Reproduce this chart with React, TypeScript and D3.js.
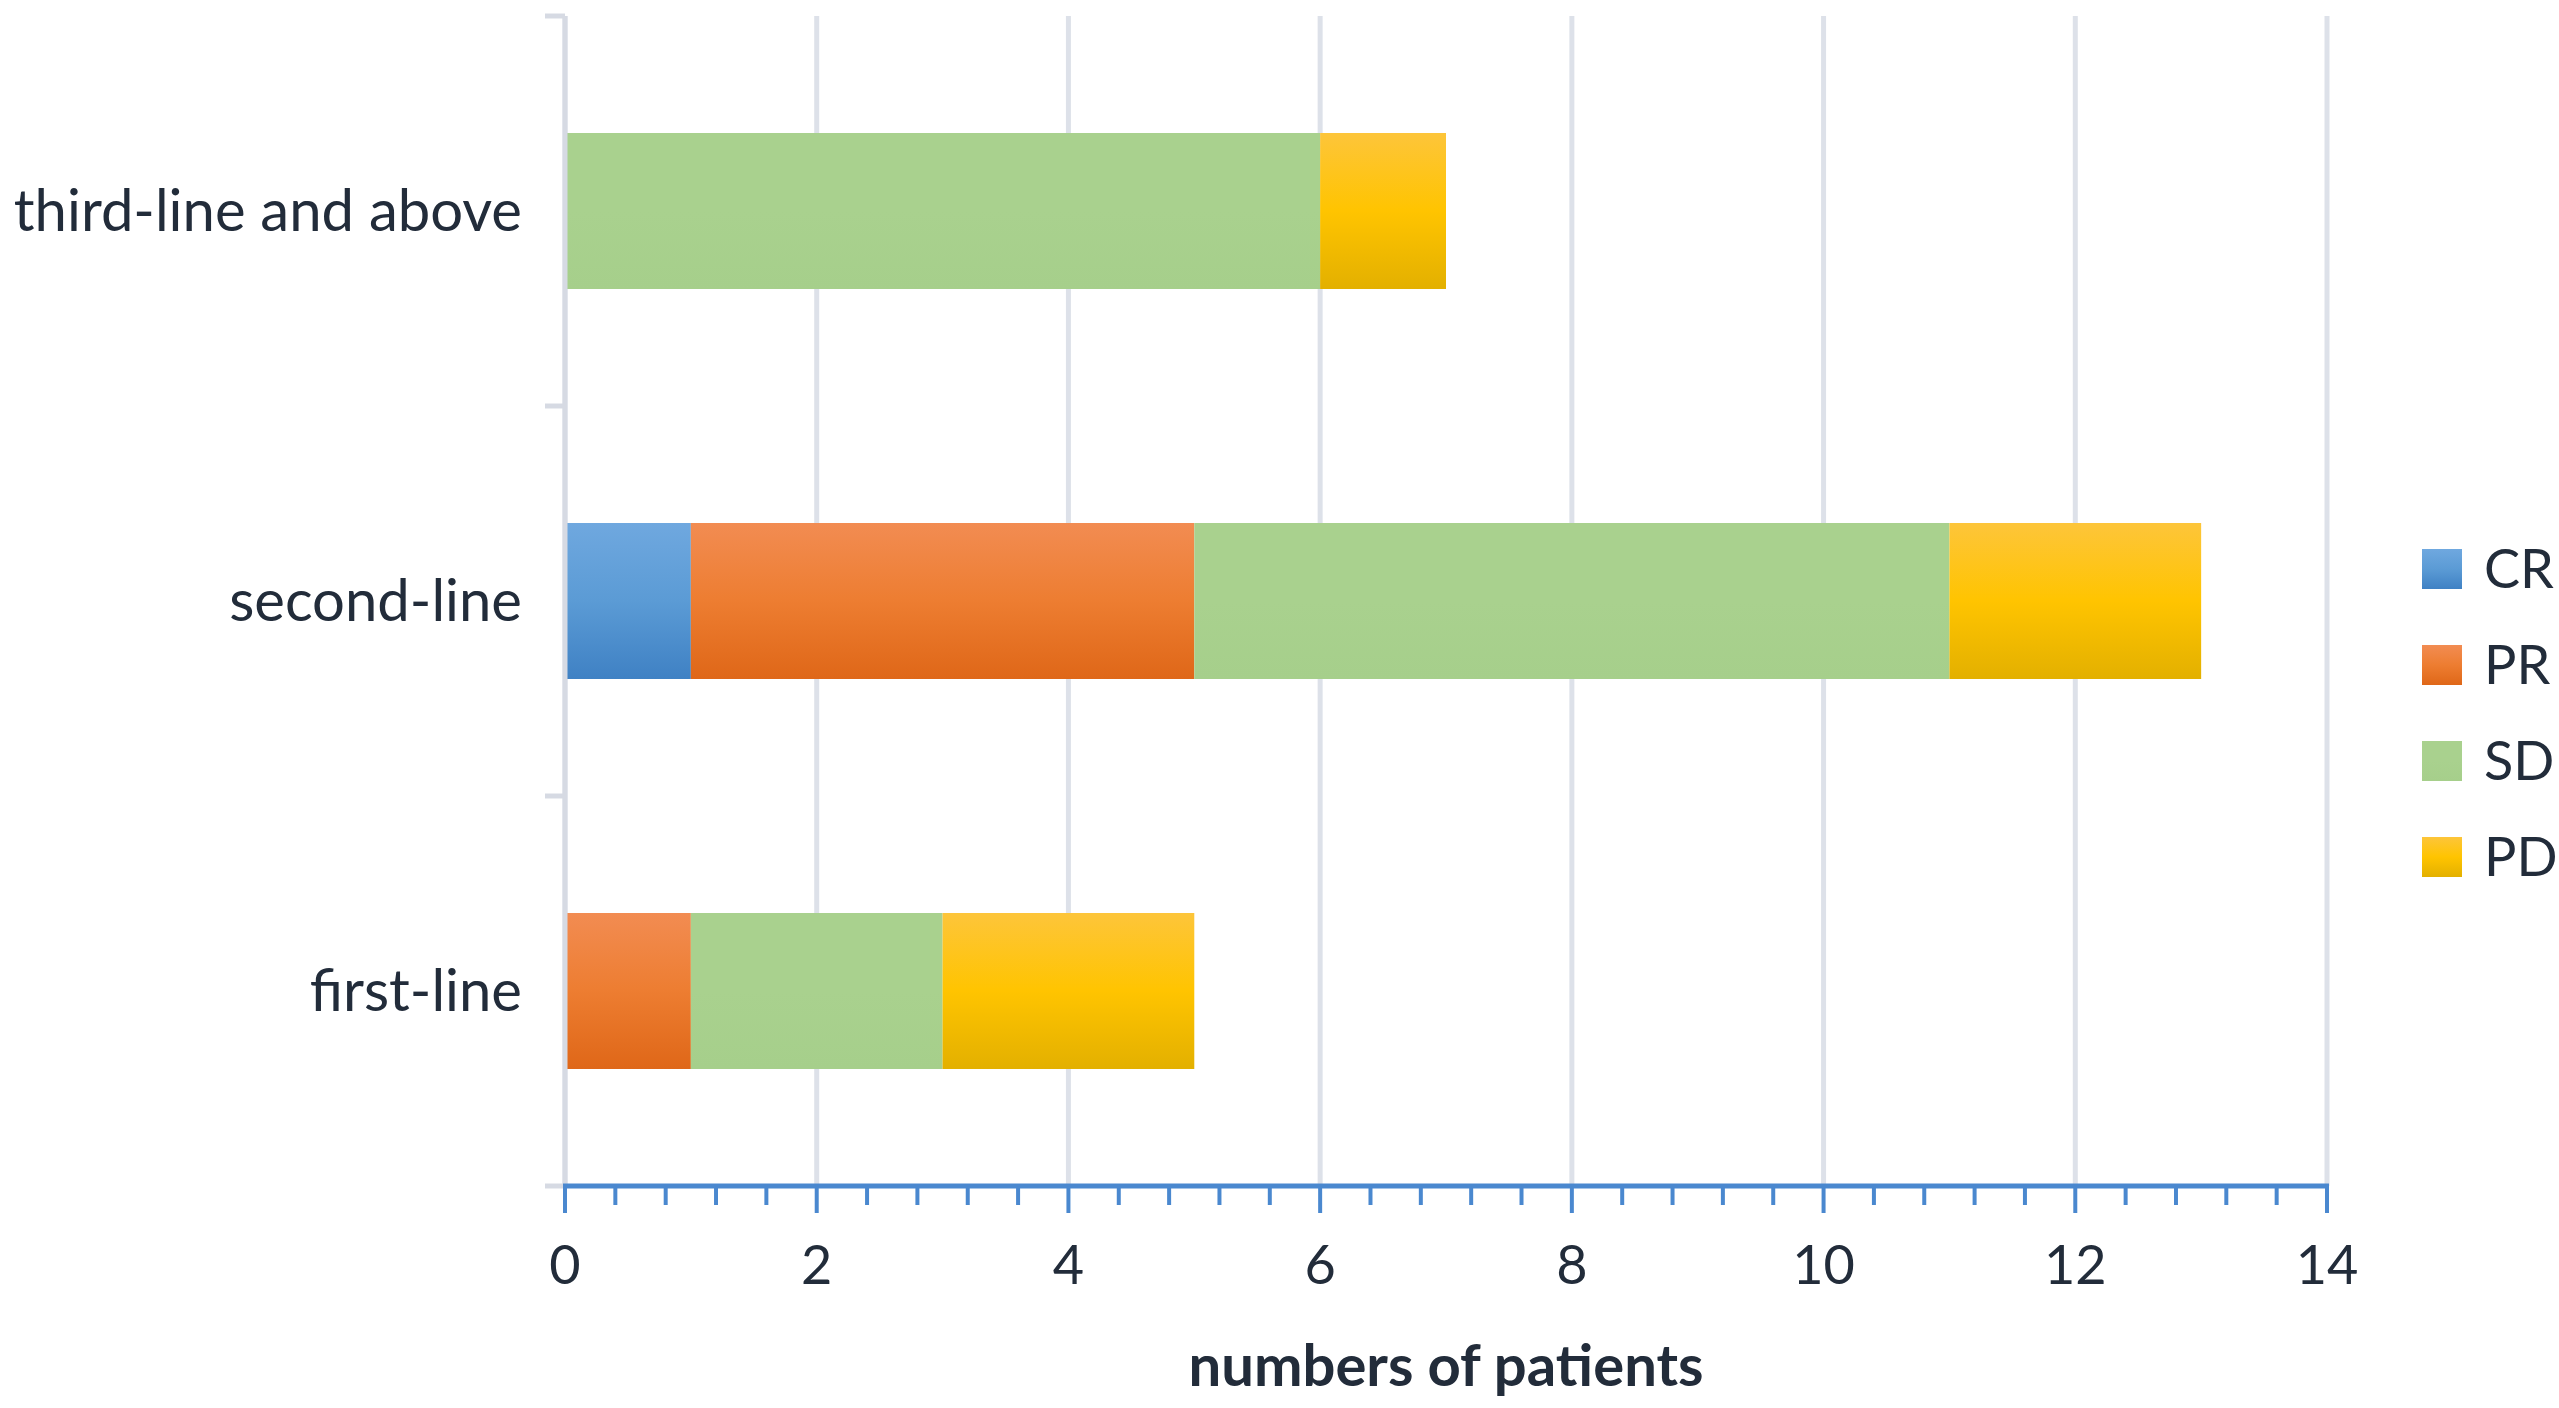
import React, { useRef, useEffect } from "react";
import * as d3 from "d3";

// categories top to bottom
const categories = ["third-line and above", "second-line", "first-line"];
const seriesNames = ["CR", "PR", "SD", "PD"];
const crValues = [0, 1, 0];
const prValues = [0, 4, 1];
const sdValues = [6, 6, 2];
const pdValues = [1, 2, 2];
const xTicks = [0, 2, 4, 6, 8, 10, 12, 14];

// gradient stops per series: [top, middle, bottom]
const seriesColors: Record<string, string[]> = {
  CR: ["#6fa8df", "#5b9bd5", "#3f81c4"],
  PR: ["#f28c52", "#ed7d31", "#df6718"],
  SD: ["#a9d18e", "#a9d18e", "#a6cf8b"],
  PD: ["#fdc53a", "#ffc400", "#e3b000"],
};

const FONT = "Lato, 'Open Sans', sans-serif";
const TEXT = "#222c3a";

export default function App() {
  const svgRef = useRef<SVGSVGElement>(null);

  useEffect(() => {
    document.body.style.margin = "0";
    if (!svgRef.current) return;
    const svg = d3.select(svgRef.current);
    svg.selectAll("*").remove();

    const width = 2559;
    const height = 1408;
    const plot = { left: 565, right: 2327, top: 16, bottom: 1186 };

    const x = d3.scaleLinear().domain([0, 14]).range([plot.left, plot.right]);
    const y = d3.scaleBand()
      .domain(categories)
      .range([plot.top, plot.bottom])
      .paddingInner(0.6)
      .paddingOuter(0.3);

    svg.append("rect").attr("width", width).attr("height", height).attr("fill", "#ffffff");

    // gradients
    const defs = svg.append("defs");
    seriesNames.forEach(name => {
      const grad = defs.append("linearGradient")
        .attr("id", `grad-${name}`)
        .attr("x1", 0).attr("y1", 0).attr("x2", 0).attr("y2", 1);
      const c = seriesColors[name];
      grad.append("stop").attr("offset", "0%").attr("stop-color", c[0]);
      grad.append("stop").attr("offset", "50%").attr("stop-color", c[1]);
      grad.append("stop").attr("offset", "100%").attr("stop-color", c[2]);
    });

    // vertical grid lines
    svg.append("g")
      .selectAll("line")
      .data(xTicks)
      .enter()
      .append("line")
      .attr("x1", d => x(d))
      .attr("x2", d => x(d))
      .attr("y1", plot.top)
      .attr("y2", plot.bottom)
      .attr("stroke", "#dde1e9")
      .attr("stroke-width", 5);

    // stacked bars
    const rows = categories.map((c, i) => ({
      category: c,
      CR: crValues[i],
      PR: prValues[i],
      SD: sdValues[i],
      PD: pdValues[i],
    }));
    const stack = d3.stack<any>().keys(seriesNames);
    const layers = stack(rows);

    layers.forEach(layer => {
      svg.append("g")
        .selectAll("rect")
        .data(layer.filter(d => d[1] - d[0] > 0))
        .enter()
        .append("rect")
        .attr("x", d => x(d[0]))
        .attr("width", d => x(d[1]) - x(d[0]))
        .attr("y", d => y(d.data.category) || 0)
        .attr("height", y.bandwidth())
        .attr("fill", `url(#grad-${layer.key})`);
    });

    // category axis (left), drawn over the bar starts
    const yTickPos = [plot.top, ...categories.slice(1).map(c => (y(c) || 0) - y.step() * y.paddingInner() / 2), plot.bottom];
    svg.append("line")
      .attr("x1", plot.left).attr("x2", plot.left)
      .attr("y1", plot.top).attr("y2", plot.bottom)
      .attr("stroke", "#d6dae3").attr("stroke-width", 5);
    svg.append("g")
      .selectAll("line")
      .data(yTickPos)
      .enter()
      .append("line")
      .attr("x1", plot.left - 20)
      .attr("x2", plot.left)
      .attr("y1", d => d)
      .attr("y2", d => d)
      .attr("stroke", "#d6dae3")
      .attr("stroke-width", 5);

    // category labels
    svg.append("g")
      .selectAll("text")
      .data(categories)
      .enter()
      .append("text")
      .attr("x", 522)
      .attr("y", d => (y(d) || 0) + y.bandwidth() / 2)
      .attr("dy", "0.35em")
      .attr("text-anchor", "end")
      .style("font-family", FONT)
      .style("font-size", "58px")
      .style("fill", TEXT)
      .text(d => d);

    // value axis (bottom)
    const minorTicks = d3.range(0, 14.001, 0.4).filter(v => Math.abs(v / 2 - Math.round(v / 2)) > 1e-6);
    const axisColor = "#4a88cf";
    svg.append("g")
      .selectAll("line")
      .data(minorTicks)
      .enter()
      .append("line")
      .attr("x1", d => x(d)).attr("x2", d => x(d))
      .attr("y1", plot.bottom).attr("y2", plot.bottom + 19)
      .attr("stroke", axisColor).attr("stroke-width", 4);
    svg.append("g")
      .selectAll("line")
      .data(xTicks)
      .enter()
      .append("line")
      .attr("x1", d => x(d)).attr("x2", d => x(d))
      .attr("y1", plot.bottom).attr("y2", plot.bottom + 27)
      .attr("stroke", axisColor).attr("stroke-width", 4);
    svg.append("line")
      .attr("x1", plot.left - 2).attr("x2", plot.right + 2)
      .attr("y1", plot.bottom).attr("y2", plot.bottom)
      .attr("stroke", axisColor).attr("stroke-width", 5);

    svg.append("g")
      .selectAll("text")
      .data(xTicks)
      .enter()
      .append("text")
      .attr("x", d => x(d))
      .attr("y", 1265)
      .attr("dy", "0.35em")
      .attr("text-anchor", "middle")
      .style("font-family", FONT)
      .style("font-size", "54px")
      .style("fill", TEXT)
      .text(d => d.toString());

    // axis title
    svg.append("text")
      .attr("x", (plot.left + plot.right) / 2)
      .attr("y", 1366)
      .attr("dy", "0.35em")
      .attr("text-anchor", "middle")
      .style("font-family", FONT)
      .style("font-weight", "bold")
      .style("font-size", "58px")
      .style("fill", TEXT)
      .text("numbers of patients");

    // legend
    const legend = svg.append("g")
      .selectAll("g")
      .data(seriesNames)
      .enter()
      .append("g")
      .attr("transform", (d, i) => `translate(2422, ${569 + i * 96})`);
    legend.append("rect")
      .attr("x", 0)
      .attr("y", -20)
      .attr("width", 40)
      .attr("height", 40)
      .attr("fill", d => `url(#grad-${d})`);
    legend.append("text")
      .attr("x", 62)
      .attr("y", 0)
      .attr("dy", "0.35em")
      .style("font-family", FONT)
      .style("font-size", "54px")
      .style("fill", TEXT)
      .text(d => d);
  }, []);

  return (
    <div style={{ width: 2559, height: 1408 }}>
      <svg ref={svgRef} width={2559} height={1408} style={{ display: "block" }} />
    </div>
  );
}
